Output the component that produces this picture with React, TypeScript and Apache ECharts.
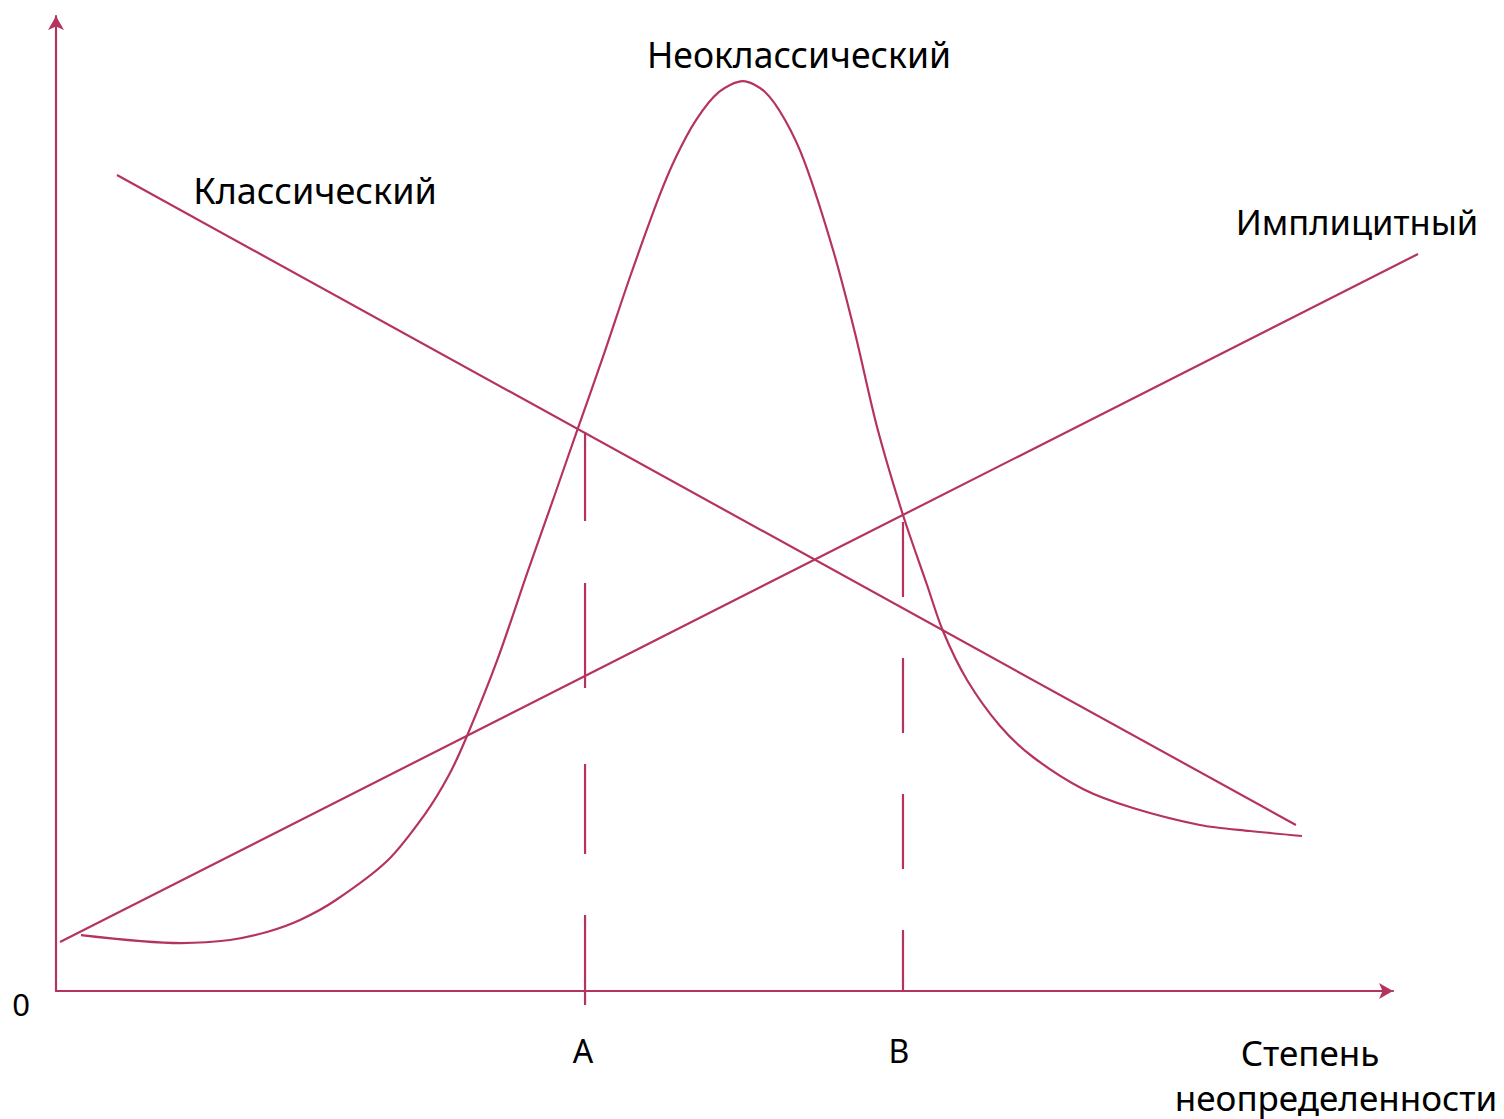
import { useEffect, useRef } from "react";
import * as echarts from "echarts";

const LINE_COLOR = "#b5345f";
const FONT = "'Noto Sans', 'Open Sans', sans-serif";

// Неоклассический curve (x: степень неопределенности, y: value), units 0..100
const neoX = [1.87, 9.35, 13.01, 15.78, 18.25, 20.94, 24.76, 27.6, 29.39, 30.74, 32.98, 35.3, 37.17, 39.04, 40.91, 42.93, 45.1, 46.37, 47.87, 49.59, 51.38, 53.03, 54.53, 56.02, 58.12, 59.76, 61.41, 63.35, 65.15, 66.34, 68.14, 70.61, 73.07, 76.81, 80.55, 85.56, 89.3, 93.19];
const neoY = [5.74, 4.92, 5.23, 6.05, 7.28, 9.33, 13.33, 18.15, 22.15, 26.15, 33.85, 43.08, 50.36, 57.74, 65.03, 73.23, 81.44, 85.54, 89.33, 92.21, 93.33, 92.21, 89.33, 84.92, 76.0, 67.49, 57.85, 48.82, 41.64, 36.92, 31.9, 27.18, 24.0, 20.72, 18.77, 17.03, 16.41, 15.9];

// Классический straight line
const classicalX = [4.56, 92.74];
const classicalY = [83.69, 17.03];

// Имплицитный straight line (runs a little past the end of the x axis)
const implicitX = [0.3, 101.87];
const implicitY = [5.03, 75.59];

// Vertical markers
const markerNames = ["A", "B"];
const markerX = [39.57, 63.35];
const markerTop = [57.33, 48.1];
const markerBottom = [-1.54, 0];
const markerDash = [
  [89, 62, 105, 76, 90, 61, 90, 200],
  [75, 61, 75, 61, 75, 61, 75, 61],
];

const seriesLabels = ["Классический", "Неоклассический", "Имплицитный"];
const axisNameLines = ["Степень", "неопределенности"];
const originLabel = "0";

const X_MAX = 100;
const X_MAX_EXT = 102;
const Y_MAX = 100;

const zip = (xs: number[], ys: number[]) => xs.map((x, i) => [x, ys[i]]);

export default function App() {
  const ref = useRef<HTMLDivElement>(null);

  useEffect(() => {
    if (!ref.current) return;
    const chart = echarts.init(ref.current, null, { renderer: "svg" });

    const W = 1504;
    const left = 56;
    const right = 111;
    const plotW = W - left - right;
    const rightExt = W - left - (plotW * X_MAX_EXT) / X_MAX;
    const LW = 2.2;

    const lineBase = {
      type: "line" as const,
      showSymbol: false,
      symbol: "none",
      clip: false,
      silent: true,
    };

    const markerSeries = markerNames.map((name, i) => ({
      ...lineBase,
      name: "marker " + name,
      data: [
        [markerX[i], markerTop[i]],
        [markerX[i], markerBottom[i]],
      ],
      lineStyle: { color: LINE_COLOR, width: LW, type: markerDash[i] },
    }));

    const textStyle = (size: number) => ({
      font: `${size}px ${FONT}`,
      fill: "#000",
      align: "center",
      verticalAlign: "middle",
    });

    const hiddenAxis = {
      type: "value" as const,
      show: false,
      splitLine: { show: false },
    };

    const visibleAxis = {
      type: "value" as const,
      min: 0,
      axisLine: {
        show: true,
        symbol: ["none", "arrow"],
        symbolSize: [12, 14],
        lineStyle: { color: LINE_COLOR, width: LW },
      },
      axisTick: { show: false },
      axisLabel: { show: false },
      splitLine: { show: false },
    };

    chart.setOption({
      animation: false,
      backgroundColor: "#fff",
      grid: [
        { left, right, top: 16, bottom: 128 },
        { left, right: rightExt, top: 16, bottom: 128 },
      ],
      xAxis: [
        { ...visibleAxis, max: X_MAX, gridIndex: 0 },
        { ...hiddenAxis, min: 0, max: X_MAX_EXT, gridIndex: 1 },
      ],
      yAxis: [
        { ...visibleAxis, max: Y_MAX, gridIndex: 0 },
        { ...hiddenAxis, min: 0, max: Y_MAX, gridIndex: 1 },
      ],
      series: [
        {
          ...lineBase,
          name: seriesLabels[0],
          data: zip(classicalX, classicalY),
          lineStyle: { color: LINE_COLOR, width: LW },
        },
        {
          ...lineBase,
          name: seriesLabels[1],
          data: zip(neoX, neoY),
          smooth: 0.3,
          lineStyle: { color: LINE_COLOR, width: LW },
        },
        {
          ...lineBase,
          name: seriesLabels[2],
          xAxisIndex: 1,
          yAxisIndex: 1,
          data: zip(implicitX, implicitY),
          lineStyle: { color: LINE_COLOR, width: LW },
        },
        ...markerSeries,
      ],
      graphic: [
        { type: "text", x: 315, y: 190, style: { text: seriesLabels[0], ...textStyle(36) } },
        { type: "text", x: 799, y: 54, style: { text: seriesLabels[1], ...textStyle(35.5) } },
        { type: "text", x: 1357, y: 221, style: { text: seriesLabels[2], ...textStyle(34.5) } },
        { type: "text", x: 21, y: 1004, style: { text: originLabel, ...textStyle(31) } },
        { type: "text", x: 583, y: 1050, style: { text: markerNames[0], ...textStyle(32) } },
        { type: "text", x: 899, y: 1050, style: { text: markerNames[1], ...textStyle(32) } },
        { type: "text", x: 1310, y: 1052, style: { text: axisNameLines[0], ...textStyle(35) } },
        { type: "text", x: 1336, y: 1097, style: { text: axisNameLines[1], ...textStyle(35) } },
      ],
    });

    return () => chart.dispose();
  }, []);

  return (
    <div
      ref={ref}
      style={{ position: "fixed", left: 0, top: 0, width: 1504, height: 1119, background: "#fff" }}
    />
  );
}
